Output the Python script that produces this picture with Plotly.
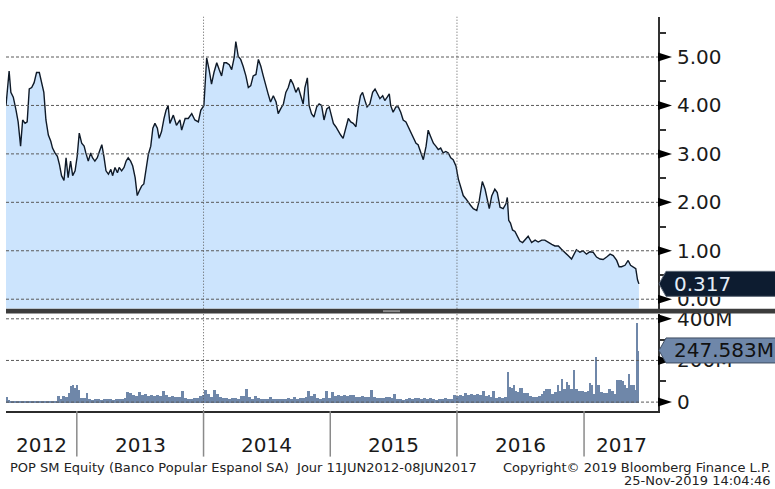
import plotly.graph_objects as go
import pandas as pd

# ---------------- data ----------------
start_date = "2012-06-11"
end_date = "2017-08-02"   # right edge of the chart's time axis

# days since start_date, closing price (EUR)
price_day = [0, 9, 14, 21, 29, 35, 42, 48, 55, 61, 67, 74, 81, 88, 96, 103, 109, 115, 122, 129,
             134, 141, 148, 154, 160, 167, 173, 179, 186, 192, 199, 205, 211, 218, 225, 230, 237, 244, 249, 256,
             263, 269, 276, 282, 288, 295, 302, 307, 314, 321, 326, 333, 340, 346, 352, 359, 365, 372, 378, 384,
             391, 397, 403, 410, 417, 423, 429, 436, 441, 448, 455, 461, 467,
             472, 482, 491, 501, 506, 516, 525, 535, 544, 554, 561, 570, 578, 585, 592, 599, 607, 614, 621, 628,
             635, 643, 650, 657, 662, 669, 676, 683, 691, 698, 705, 712, 720, 727, 734, 741, 749, 755, 762, 770,
             778, 784, 791, 799, 806, 813, 820, 827, 835, 842, 849, 856, 861, 868, 873, 880, 887, 895, 902, 909,
             916, 924, 931,
             943, 950, 957, 964, 971, 979, 986, 993, 1000, 1008, 1014, 1021, 1027, 1034, 1040, 1048, 1056, 1063, 1069, 1077,
             1085, 1091, 1098, 1104, 1108, 1115, 1123, 1130, 1137, 1144, 1152, 1159, 1165, 1173, 1181, 1187, 1194, 1202, 1210, 1216,
             1223, 1231, 1238, 1245, 1252, 1259, 1267, 1274, 1281, 1288, 1296, 1303, 1310, 1317, 1325, 1331, 1338,
             1346, 1356, 1363, 1372, 1380, 1386, 1392, 1399, 1408, 1415, 1423, 1432, 1440, 1444, 1448, 1453, 1459, 1466, 1473, 1480,
             1488, 1495, 1504, 1514, 1524, 1533, 1543, 1552, 1562, 1572, 1581, 1591, 1600, 1610, 1619, 1629, 1636, 1643, 1653, 1662,
             1672, 1682, 1691, 1701, 1711, 1720, 1730, 1740, 1749, 1759, 1766, 1773, 1783, 1792, 1799, 1807, 1814, 1819, 1823]
price_val = [4.00, 4.71, 4.27, 4.17, 3.90, 3.66, 3.16, 3.70, 3.63, 3.66, 4.34, 4.37, 4.47, 4.68, 4.68, 4.47, 4.27, 3.70, 3.39, 3.26,
             3.12, 3.02, 2.95, 2.78, 2.55, 2.45, 2.92, 2.51, 2.85, 2.55, 2.65, 2.95, 3.43, 3.22, 3.16, 3.02, 2.85, 3.02, 2.92, 2.85,
             2.92, 3.05, 3.19, 2.95, 2.65, 2.58, 2.68, 2.55, 2.72, 2.61, 2.72, 2.65, 2.72, 2.85, 2.92, 2.85, 2.75, 2.51, 2.14, 2.24,
             2.34, 2.38, 2.65, 2.99, 3.16, 3.53, 3.63, 3.53, 3.32, 3.46, 3.73, 3.90, 4.00,
             3.63, 3.80, 3.59, 3.70, 3.49, 3.73, 3.73, 3.83, 3.70, 3.66, 3.90, 4.00, 4.98, 4.74, 4.44, 4.68, 4.88, 4.74, 4.61, 4.88,
             4.88, 4.84, 4.74, 4.98, 5.32, 5.01, 4.95, 4.81, 4.61, 4.37, 4.41, 4.61, 4.64, 4.95, 4.81, 4.61, 4.37, 4.24, 4.07, 4.20,
             4.07, 3.83, 3.93, 4.03, 4.27, 4.37, 4.54, 4.44, 4.27, 4.37, 4.20, 4.03, 4.37, 4.57, 4.00, 3.83, 3.76, 3.97, 4.03, 4.00,
             3.70, 3.93, 3.97,
             3.63, 3.56, 3.46, 3.39, 3.32, 3.53, 3.73, 3.66, 3.63, 3.56, 3.93, 4.20, 4.27, 4.10, 3.97, 4.03, 4.27, 4.34, 4.24, 4.14,
             4.20, 4.10, 4.17, 4.24, 4.00, 3.86, 3.97, 3.97, 3.86, 3.70, 3.66, 3.56, 3.46, 3.36, 3.22, 3.19, 3.05, 2.88, 3.16, 3.49,
             3.36, 3.22, 3.16, 3.09, 3.12, 3.02, 3.05, 3.02, 2.92, 2.88, 2.75, 2.48, 2.31, 2.14, 2.07, 2.00, 1.94,
             1.87, 1.83, 2.03, 2.43, 2.27, 2.07, 1.87, 2.13, 2.27, 2.20, 1.90, 1.87, 1.97, 2.10, 1.63, 1.57, 1.43, 1.40, 1.30, 1.20,
             1.17, 1.23, 1.30, 1.17, 1.22, 1.18, 1.22, 1.22, 1.17, 1.13, 1.10, 1.10, 1.03, 0.97, 0.90, 0.83, 0.93, 1.02, 0.97, 1.00,
             0.93, 0.98, 0.97, 0.87, 0.83, 0.82, 0.87, 0.93, 0.90, 0.80, 0.67, 0.67, 0.70, 0.80, 0.70, 0.67, 0.63, 0.40, 0.317]

# (days since start_date, volume in millions of shares)
volume_readings = [
    (0, 28), (6, 10), (12, 8), (23, 6), (35, 7), (46, 5), (58, 6), (69, 5), (81, 8), (92, 5),
    (104, 6), (115, 8), (127, 5), (138, 9), (147, 31), (156, 18), (161, 30), (170, 28), (179, 45), (184, 80),
    (190, 86), (196, 72), (202, 84), (207, 60), (213, 23), (222, 20), (230, 47), (236, 18), (245, 14), (253, 15),
    (262, 18), (271, 14), (279, 17), (288, 15), (297, 19), (305, 14), (314, 17), (323, 16), (331, 18), (340, 22),
    (346, 50), (354, 44), (363, 35), (372, 30), (380, 50), (389, 36), (397, 40), (406, 33), (415, 38), (423, 30),
    (432, 34), (441, 30), (449, 55), (458, 36), (467, 28), (475, 30), (484, 25), (495, 28), (504, 55), (513, 22),
    (521, 19), (530, 18), (539, 20), (547, 22), (556, 30), (564, 35), (570, 62), (579, 40), (588, 25), (596, 62),
    (605, 42), (613, 28), (622, 22), (631, 20), (639, 18), (648, 20), (657, 22), (665, 18), (674, 30), (688, 66),
    (697, 25), (706, 18), (714, 30), (723, 20), (732, 16), (740, 18), (749, 15), (757, 27), (766, 18), (775, 16),
    (783, 15), (792, 18), (801, 16), (809, 22), (818, 18), (827, 27), (835, 18), (844, 20), (852, 24), (861, 26),
    (867, 55), (876, 30), (884, 40), (893, 22), (901, 18), (910, 24), (919, 55), (927, 20), (936, 50), (945, 30),
    (953, 35), (962, 32), (971, 35), (979, 30), (988, 35), (996, 34), (1005, 28), (1014, 26), (1022, 30), (1031, 28),
    (1040, 26), (1048, 58), (1057, 25), (1066, 24), (1074, 22), (1083, 20), (1092, 26), (1100, 25), (1109, 24), (1115, 42),
    (1123, 16), (1132, 18), (1140, 14), (1149, 18), (1158, 20), (1166, 16), (1175, 20), (1184, 22), (1192, 18), (1201, 21),
    (1210, 19), (1218, 20), (1227, 17), (1236, 14), (1244, 18), (1253, 16), (1261, 20), (1270, 17), (1279, 16), (1287, 36),
    (1296, 30), (1305, 34), (1313, 31), (1319, 47), (1328, 38), (1336, 39), (1345, 36), (1354, 40), (1362, 34), (1371, 55),
    (1380, 30), (1388, 36), (1394, 26), (1400, 55), (1408, 24), (1417, 26), (1426, 22), (1434, 25), (1443, 146), (1449, 75),
    (1454, 72), (1460, 82), (1466, 55), (1472, 50), (1477, 72), (1483, 72), (1489, 47), (1498, 45), (1506, 30), (1515, 28),
    (1524, 26), (1532, 30), (1541, 40), (1547, 55), (1552, 66), (1561, 64), (1570, 40), (1578, 50), (1587, 86), (1593, 55),
    (1598, 115), (1604, 64), (1613, 99), (1619, 86), (1624, 66), (1633, 157), (1639, 66), (1647, 55), (1656, 55), (1665, 50),
    (1673, 55), (1679, 94), (1685, 86), (1691, 40), (1696, 220), (1702, 86), (1711, 50), (1719, 45), (1728, 48), (1734, 66),
    (1742, 55), (1751, 40), (1757, 110), (1765, 108), (1774, 105), (1780, 86), (1786, 70), (1791, 136), (1797, 82), (1806, 86),
    (1809, 60), (1814, 384), (1820, 248),
]
vol_day = [d for d, _ in volume_readings]
vol_m = [v for _, v in volume_readings]

price_ticks = [0, 1, 2, 3, 4, 5]
price_ticktext = ["0.00", "1.00", "2.00", "3.00", "4.00", "5.00"]
price_minor = [0.5, 1.5, 2.5, 3.5, 4.5, 5.5]
price_range = [-0.196, 5.83]

vol_ticks = [0, 200, 400]
vol_ticktext = ["0", "200M", "400M"]
vol_minor = [100, 300]
vol_range = [-44, 425]

years = [2012, 2013, 2014, 2015, 2016, 2017]
grid_years = [2014, 2016]
last_price_text = "0.317"
last_vol_text = "247.583M"
footer_left = "POP SM Equity (Banco Popular Espanol SA)  Jour 11JUN2012-08JUN2017"
footer_right1 = "Copyright\u00a9 2019 Bloomberg Finance L.P."
footer_right2 = "25-Nov-2019 14:04:46"

# ---------------- derived ----------------
W, H = 775, 489
FONT = "DejaVu Sans"
t0 = pd.Timestamp(start_date)
t_end = pd.Timestamp(end_date)
price_dates = [t0 + pd.Timedelta(days=d) for d in price_day]
vol_dates = [t0 + pd.Timedelta(days=d) for d in vol_day]
vol_widths = [(vol_day[i + 1] - vol_day[i]) * 86400000 for i in range(len(vol_day) - 1)] + [3 * 86400000]


def px(x):
    return x / W


def py(y):
    return 1 - y / H


AXIS_X = 658
fig = go.Figure()

# fill floor for the price area (bottom of the price panel)
fig.add_trace(go.Scatter(x=price_dates, y=[price_range[0]] * len(price_dates), mode="lines",
                         line=dict(width=0, color="rgba(0,0,0,0)"), hoverinfo="skip", showlegend=False,
                         xaxis="x", yaxis="y"))
fig.add_trace(go.Scatter(x=price_dates, y=price_val, mode="lines", fill="tonexty",
                         fillcolor="#cce4fd", line=dict(color="#0f1a28", width=1.4),
                         showlegend=False, xaxis="x", yaxis="y"))
fig.add_trace(go.Bar(x=vol_dates, y=vol_m, width=vol_widths, offset=0,
                     marker=dict(color="#6f87a9", line=dict(width=0)),
                     showlegend=False, xaxis="x2", yaxis="y2"))

shapes = []
# horizontal grid lines (drawn above the fill)
for v in price_ticks:
    shapes.append(dict(type="line", xref="x domain", yref="y", x0=0, x1=1, y0=v, y1=v,
                       line=dict(color="#5a5a5a", width=1, dash="3px,2px"), layer="above"))
for v in vol_ticks:
    shapes.append(dict(type="line", xref="x2 domain", yref="y2", x0=0, x1=1, y0=v, y1=v,
                       line=dict(color="#5a5a5a", width=1, dash="3px,2px"), layer="above"))
# vertical dotted grid lines
for yr in grid_years:
    d = pd.Timestamp(f"{yr}-01-01")
    for xr, yr_ in (("x", "y domain"), ("x2", "y2 domain")):
        shapes.append(dict(type="line", xref=xr, yref=yr_, x0=d, x1=d, y0=0, y1=1,
                           line=dict(color="#5a5a5a", width=1, dash="1px,2px"), layer="above"))

# panel separator bar
shapes.append(dict(type="rect", xref="paper", yref="paper", x0=px(6), x1=1, y0=py(313), y1=py(308),
                   fillcolor="#3c3c3c", line=dict(width=0), layer="above"))
shapes.append(dict(type="rect", xref="paper", yref="paper", x0=px(383), x1=px(400), y0=py(311.5), y1=py(309.5),
                   fillcolor="#8c8c8c", line=dict(width=0), layer="above"))

# tick triangles
for v in price_ticks:
    shapes.append(dict(type="path", xref="paper", yref="y", xsizemode="pixel", ysizemode="pixel",
                       xanchor=px(AXIS_X), yanchor=v, path="M0,4.5 L14,0 L0,-4.5 Z",
                       fillcolor="#000000", line=dict(width=0), layer="above"))
for v in vol_ticks:
    shapes.append(dict(type="path", xref="paper", yref="y2", xsizemode="pixel", ysizemode="pixel",
                       xanchor=px(AXIS_X), yanchor=v, path="M0,4.5 L14,0 L0,-4.5 Z",
                       fillcolor="#000000", line=dict(width=0), layer="above"))

# year separators under the volume panel
for yr in years[1:]:
    d = pd.Timestamp(f"{yr}-01-01")
    shapes.append(dict(type="line", xref="x2", yref="paper", x0=d, x1=d, y0=py(459), y1=py(412.5),
                       line=dict(color="#8a8a8a", width=1.5)))

# last value boxes
box_path = "M0,0 L7,12.5 L118,12.5 L118,-12.5 L7,-12.5 Z"
shapes.append(dict(type="path", xref="paper", yref="y", xsizemode="pixel", ysizemode="pixel",
                   xanchor=px(AXIS_X + 1), yanchor=price_val[-1], path=box_path,
                   fillcolor="#0d1c30", line=dict(color="#5d6877", width=1), layer="above"))
shapes.append(dict(type="path", xref="paper", yref="y2", xsizemode="pixel", ysizemode="pixel",
                   xanchor=px(AXIS_X + 1), yanchor=vol_m[-1], path=box_path,
                   fillcolor="#6f87a9", line=dict(color="#3e4c60", width=1), layer="above"))

annotations = []
annotations.append(dict(xref="paper", yref="y", x=px(672), y=price_val[-1], text=last_price_text,
                        showarrow=False, xanchor="left", yanchor="middle",
                        font=dict(family=FONT, size=20, color="#e4ecf6")))
annotations.append(dict(xref="paper", yref="y2", x=px(672), y=vol_m[-1], text=last_vol_text,
                        showarrow=False, xanchor="left", yanchor="middle",
                        font=dict(family=FONT, size=20, color="#111111")))

# year labels centred in the visible part of each year
for yr in years:
    a = max(pd.Timestamp(f"{yr}-01-01"), t0)
    b = min(pd.Timestamp(f"{yr + 1}-01-01"), t_end)
    mid = a + (b - a) / 2
    annotations.append(dict(xref="x2", yref="paper", x=mid, y=py(447), text=str(yr), showarrow=False,
                            xanchor="center", yanchor="middle",
                            font=dict(family=FONT, size=20, color="#1a1a1a")))

annotations.append(dict(xref="paper", yref="paper", x=px(8), y=py(470), text=footer_left, showarrow=False,
                        xanchor="left", yanchor="middle", font=dict(family=FONT, size=13, color="#222222")))
annotations.append(dict(xref="paper", yref="paper", x=px(773), y=py(470), text=footer_right1, showarrow=False,
                        xanchor="right", yanchor="middle", font=dict(family=FONT, size=13, color="#222222")))
annotations.append(dict(xref="paper", yref="paper", x=px(773), y=py(483), text=footer_right2, showarrow=False,
                        xanchor="right", yanchor="middle", font=dict(family=FONT, size=13, color="#222222")))

xdom = [px(6), px(AXIS_X)]
fig.update_layout(
    width=W, height=H,
    margin=dict(l=0, r=0, t=0, b=0),
    paper_bgcolor="white", plot_bgcolor="white",
    font=dict(family=FONT, size=20, color="#1a1a1a"),
    showlegend=False,
    bargap=0,
    xaxis=dict(domain=xdom, range=[t0, t_end], type="date", anchor="y",
               showgrid=False, zeroline=False, showline=False, showticklabels=False, ticks=""),
    xaxis2=dict(domain=xdom, range=[t0, t_end], type="date", anchor="y2", matches="x",
                showgrid=False, zeroline=False, showline=True, linecolor="#2b2b2b", linewidth=2,
                showticklabels=False, ticks=""),
    yaxis=dict(domain=[py(308), py(10)], range=price_range, side="right", anchor="x",
               showgrid=False, zeroline=False, showline=True, linecolor="#333333", linewidth=2,
               tickmode="array", tickvals=price_ticks, ticktext=price_ticktext, ticks="",
               ticklabelstandoff=13, tickfont=dict(family=FONT, size=20, color="#1a1a1a"),
               minor=dict(tickmode="array", tickvals=price_minor, ticks="outside", ticklen=6,
                          tickwidth=1.5, tickcolor="#333333", showgrid=False)),
    yaxis2=dict(domain=[py(412.7), py(313)], range=vol_range, side="right", anchor="x2",
                showgrid=False, zeroline=False, showline=True, linecolor="#333333", linewidth=2,
                tickmode="array", tickvals=vol_ticks, ticktext=vol_ticktext, ticks="",
                ticklabelstandoff=13, tickfont=dict(family=FONT, size=20, color="#1a1a1a"),
                minor=dict(tickmode="array", tickvals=vol_minor, ticks="outside", ticklen=6,
                           tickwidth=1.5, tickcolor="#333333", showgrid=False)),
    shapes=shapes,
    annotations=annotations,
)

fig.write_html("out.html", config={"displayModeBar": False},
               post_script="document.body.style.margin='0px';document.body.style.overflow='hidden';")
